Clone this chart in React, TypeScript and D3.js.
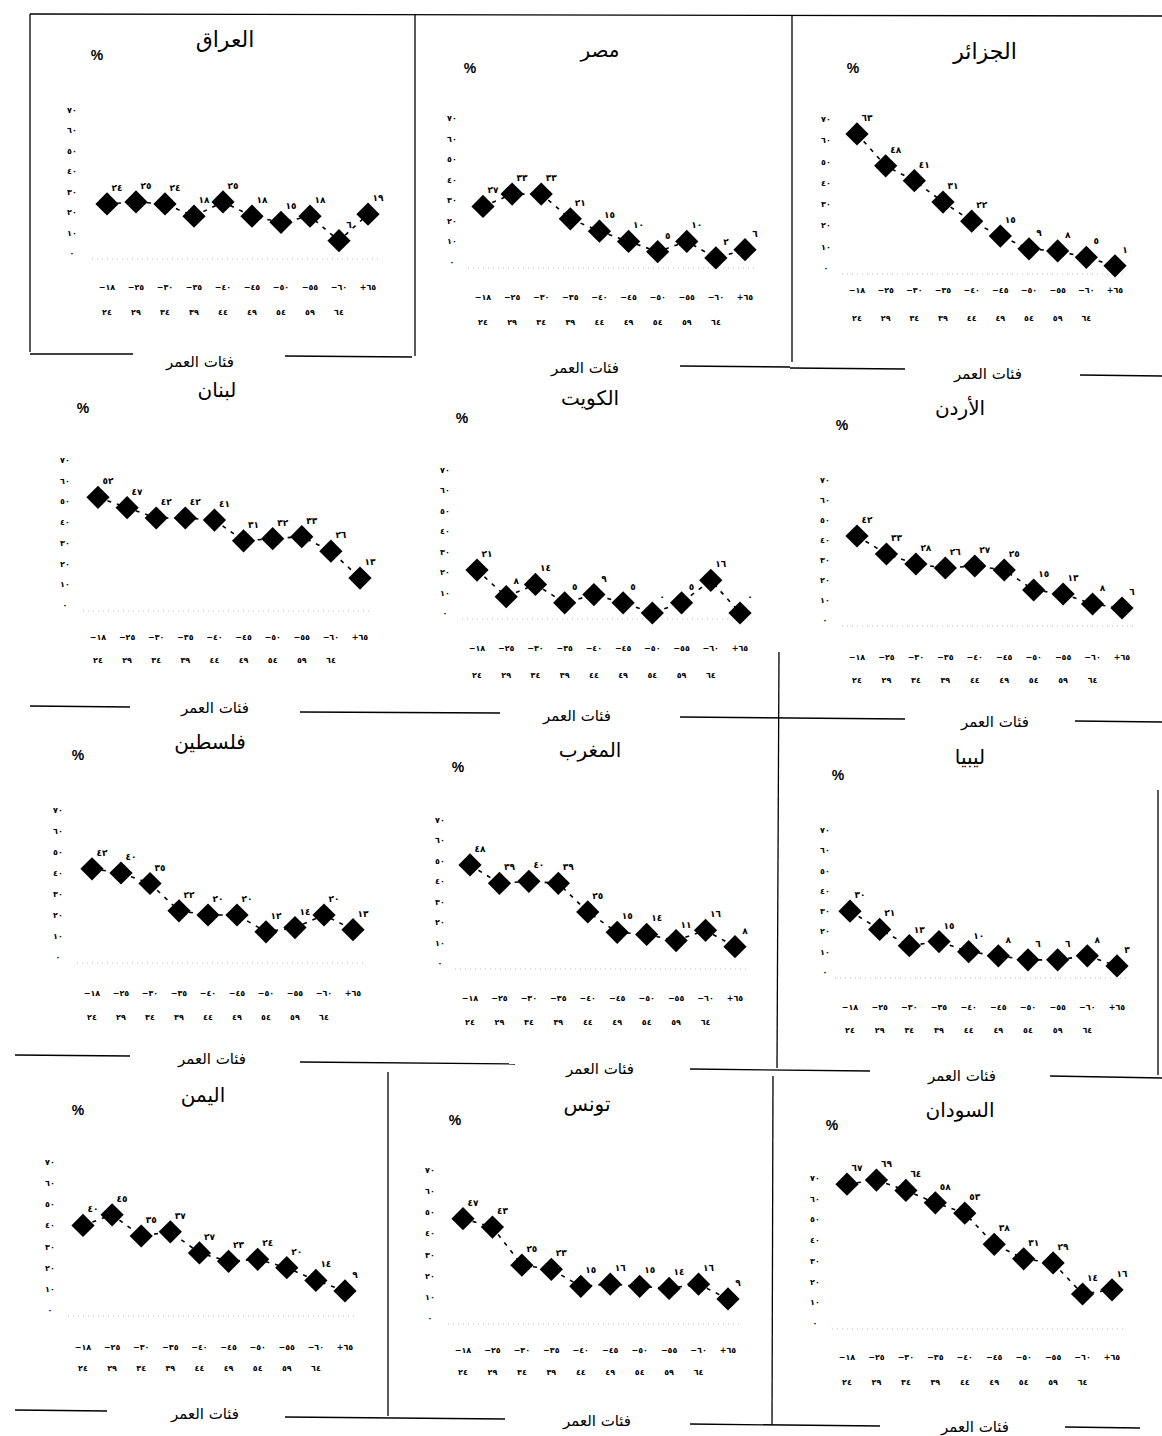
import * as d3 from 'd3';

// age groups (x categories) and their two-line labels
const ageGroups = ['18-24', '25-29', '30-34', '35-39', '40-44', '45-49', '50-54', '55-59', '60-64', '65+'];
const ageTop = ['−١٨', '−٢٥', '−٣٠', '−٣٥', '−٤٠', '−٤٥', '−٥٠', '−٥٥', '−٦٠', '+٦٥'];
const ageBottom = ['٢٤', '٢٩', '٣٤', '٣٩', '٤٤', '٤٩', '٥٤', '٥٩', '٦٤', ''];
const yTicks = [0, 10, 20, 30, 40, 50, 60, 70];

// % by age group
const iraq = [24, 25, 24, 18, 25, 18, 15, 18, 6, 19];
const egypt = [27, 33, 33, 21, 15, 10, 5, 10, 2, 6];
const algeria = [63, 48, 41, 31, 22, 15, 9, 8, 5, 1];
const lebanon = [52, 47, 42, 42, 41, 31, 32, 33, 26, 13];
const kuwait = [21, 8, 14, 5, 9, 5, 0, 5, 16, 0];
const jordan = [42, 33, 28, 26, 27, 25, 15, 13, 8, 6];
const palestine = [42, 40, 35, 22, 20, 20, 12, 14, 20, 13];
const morocco = [48, 39, 40, 39, 25, 15, 14, 11, 16, 8];
const libya = [30, 21, 13, 15, 10, 8, 6, 6, 8, 3];
const yemen = [40, 45, 35, 37, 27, 23, 24, 20, 14, 9];
const tunisia = [47, 43, 25, 23, 15, 16, 15, 14, 16, 9];
const sudan = [67, 69, 64, 58, 53, 38, 31, 29, 14, 16];

const axisTitle = 'فئات العمر';

const AR = '٠١٢٣٤٥٦٧٨٩';
const ar = (v) => String(v).replace(/[0-9]/g, (d) => AR[+d]);

const arabicFont = '"DejaVu Sans", sans-serif';

// layout of each small chart on the scanned page
const panels = [
  { title: 'العراق', data: iraq, tx: 225, ty: 40, ts: 22, px: 97, py: 55, tickX: 72, y70: 110, y0: 253, x0: 107, x1: 368, r1: 287, r2: 312 },
  { title: 'مصر', data: egypt, tx: 600, ty: 50, ts: 20, px: 470, py: 68, tickX: 452, y70: 118, y0: 262, x0: 483, x1: 745, r1: 297, r2: 322 },
  { title: 'الجزائر', data: algeria, tx: 985, ty: 52, ts: 22, px: 853, py: 68, tickX: 826, y70: 119, y0: 268, x0: 857, x1: 1115, r1: 290, r2: 318 },
  { title: 'لبنان', data: lebanon, tx: 217, ty: 390, ts: 20, px: 83, py: 408, tickX: 65, y70: 460, y0: 605, x0: 98, x1: 360, r1: 637, r2: 660 },
  { title: 'الكويت', data: kuwait, tx: 590, ty: 398, ts: 20, px: 462, py: 418, tickX: 445, y70: 470, y0: 613, x0: 477, x1: 740, r1: 648, r2: 675 },
  { title: 'الأردن', data: jordan, tx: 960, ty: 408, ts: 20, px: 842, py: 425, tickX: 825, y70: 480, y0: 620, x0: 857, x1: 1122, r1: 657, r2: 680 },
  { title: 'فلسطين', data: palestine, tx: 210, ty: 742, ts: 20, px: 78, py: 755, tickX: 58, y70: 810, y0: 957, x0: 92, x1: 353, r1: 993, r2: 1017 },
  { title: 'المغرب', data: morocco, tx: 590, ty: 750, ts: 20, px: 458, py: 767, tickX: 440, y70: 820, y0: 963, x0: 470, x1: 735, r1: 998, r2: 1022 },
  { title: 'ليبيا', data: libya, tx: 970, ty: 757, ts: 20, px: 838, py: 775, tickX: 825, y70: 830, y0: 972, x0: 850, x1: 1117, r1: 1007, r2: 1030 },
  { title: 'اليمن', data: yemen, tx: 203, ty: 1095, ts: 20, px: 78, py: 1110, tickX: 50, y70: 1162, y0: 1310, x0: 83, x1: 345, r1: 1347, r2: 1368 },
  { title: 'تونس', data: tunisia, tx: 587, ty: 1104, ts: 20, px: 455, py: 1120, tickX: 430, y70: 1170, y0: 1318, x0: 463, x1: 728, r1: 1350, r2: 1372 },
  { title: 'السودان', data: sudan, tx: 960, ty: 1110, ts: 20, px: 832, py: 1125, tickX: 815, y70: 1178, y0: 1323, x0: 847, x1: 1112, r1: 1357, r2: 1382 },
];

// scanned page rules
const rules = [
  [30, 14, 1162, 16],
  [30, 14, 30, 352],
  [415, 14, 415, 356],
  [792, 16, 792, 362],
  [779, 652, 777, 1068],
  [1158, 790, 1158, 1075],
  [388, 1072, 388, 1416],
  [773, 1076, 772, 1425],
  // row separators
  [30, 354, 133, 354], [285, 356, 412, 357], [680, 366, 790, 367], [790, 368, 905, 369], [1080, 375, 1162, 376],
  [30, 706, 130, 707], [300, 712, 500, 713], [680, 717, 905, 719], [1075, 721, 1162, 722],
  [15, 1055, 130, 1056], [300, 1062, 515, 1064], [690, 1069, 870, 1071], [1050, 1076, 1162, 1078],
  [15, 1410, 107, 1411], [285, 1417, 505, 1419], [690, 1424, 880, 1426], [1065, 1427, 1140, 1428],
];

const sepLabels = [
  [200, 362], [585, 368], [988, 374],
  [215, 708], [577, 716], [995, 722],
  [212, 1059], [600, 1069], [962, 1076],
  [205, 1414], [597, 1421], [975, 1427],
];

const diamond = d3.symbol().type(d3.symbolSquare).size(270)();

const Panel = ({ p }) => {
  const x = d3.scalePoint().domain(ageGroups).range([p.x0, p.x1]);
  const y = d3.scaleLinear().domain([0, 70]).range([p.y0, p.y70]);
  const line = d3.line()
    .x((d, i) => x(ageGroups[i]))
    .y((d) => y(d));
  return (
    <g>
      <text x={p.tx} y={p.ty + 7} fontSize={p.ts} textAnchor="middle" fontFamily={arabicFont}>{p.title}</text>
      <text x={p.px} y={p.py + 5} fontSize={14} fontWeight="bold" textAnchor="middle" fontFamily='"Liberation Sans", Arial, sans-serif'>%</text>
      {yTicks.map((t) => (
        <text key={t} x={p.tickX} y={y(t) + 3} fontSize={8} fontWeight="bold" textAnchor="middle" fontFamily={arabicFont}>{ar(t)}</text>
      ))}
      <line x1={p.x0 - 15} x2={p.x1 + 12} y1={y(0) + 6} y2={y(0) + 6} stroke="#bbb" strokeWidth={1} strokeDasharray="1 4" />
      <path d={line(p.data)} fill="none" stroke="#000" strokeWidth={1.6} strokeDasharray="4 6" />
      {p.data.map((v, i) => (
        <path key={i} d={diamond} transform={`translate(${x(ageGroups[i])},${y(v)}) rotate(45)`} fill="#000" />
      ))}
      {p.data.map((v, i) => (
        <text key={'l' + i} x={x(ageGroups[i]) + 10} y={y(v) - 13} fontSize={9} fontWeight="bold" textAnchor="middle" fontFamily={arabicFont}>{ar(v)}</text>
      ))}
      {ageGroups.map((g, i) => (
        <g key={g}>
          <text x={x(g)} y={p.r1 + 3} fontSize={8} fontWeight="bold" textAnchor="middle" fontFamily={arabicFont}>{ageTop[i]}</text>
          <text x={x(g)} y={p.r2 + 3} fontSize={8} fontWeight="bold" textAnchor="middle" fontFamily={arabicFont}>{ageBottom[i]}</text>
        </g>
      ))}
    </g>
  );
};

export default function App() {
  return (
    <div style={{ position: 'absolute', left: 0, top: 0, background: '#fff' }}>
      <svg width={1162} height={1436} style={{ display: 'block' }}>
        <rect width={1162} height={1436} fill="#fff" />
        {rules.map((r, i) => (
          <line key={i} x1={r[0]} y1={r[1]} x2={r[2]} y2={r[3]} stroke="#000" strokeWidth={1.3} />
        ))}
        {sepLabels.map((s, i) => (
          <text key={i} x={s[0]} y={s[1] + 5} fontSize={15} textAnchor="middle" fontFamily={arabicFont}>{axisTitle}</text>
        ))}
        {panels.map((p) => <Panel key={p.title} p={p} />)}
      </svg>
    </div>
  );
}
